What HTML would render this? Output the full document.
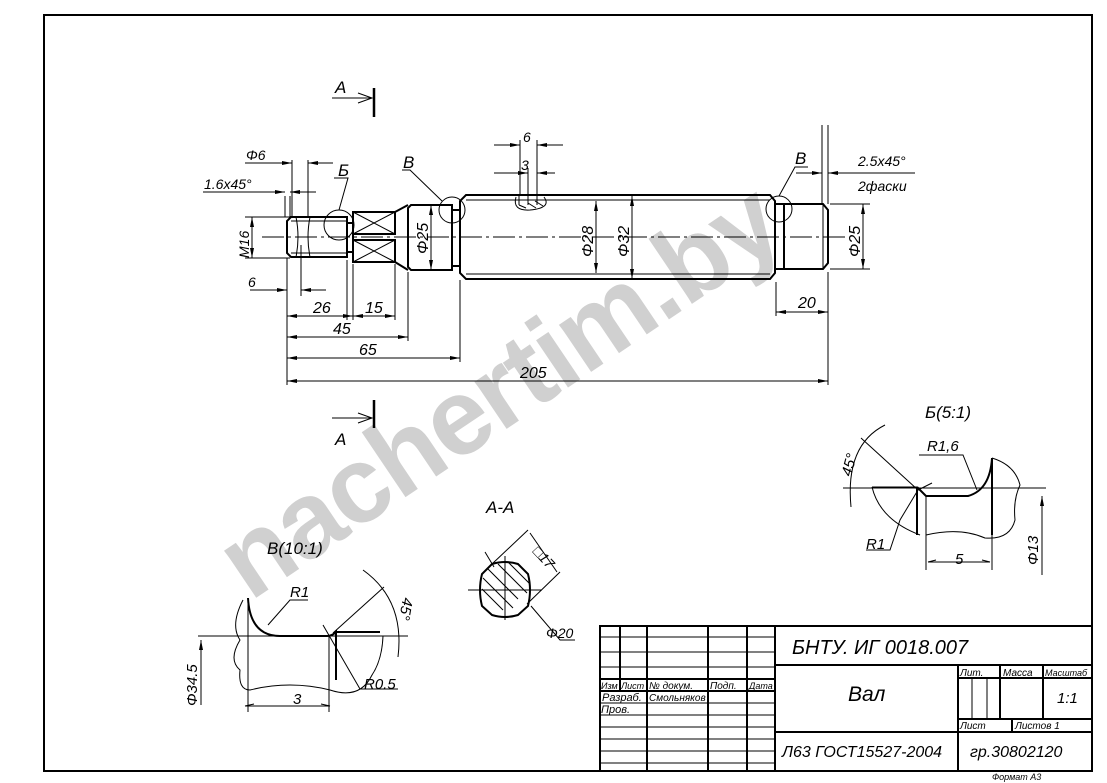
<!DOCTYPE html>
<html><head><meta charset="utf-8"><style>
html,body{margin:0;padding:0;background:#fff;}
svg{display:block;}
text{font-family:"Liberation Sans","DejaVu Sans",sans-serif;font-style:italic;fill:#000;}
</style></head><body>
<svg width="1107" height="783" viewBox="0 0 1107 783" xmlns="http://www.w3.org/2000/svg">
<defs>
<marker id="a" viewBox="0 0 10 4" refX="10" refY="2" markerWidth="10" markerHeight="4" orient="auto-start-reverse" markerUnits="userSpaceOnUse"><path d="M0,0 L10,2 L0,4 z" fill="#000"/></marker>
</defs>
<text x="0" y="0" transform="translate(250,602) rotate(-34)" font-size="108" font-weight="bold" style="font-style:normal;fill:#d0d0d0" textLength="650">nachertim.by</text>

<rect x="44" y="15" width="1048" height="756" fill="none" stroke="#000" stroke-width="2"/>

<g fill="none" stroke="#000" stroke-width="2">
<path d="M291,217 L347,217 L347,257 L291,257 L287,253 L287,221 Z"/>
<path d="M347,223 H353 V252 H347"/>
<rect x="353" y="212" width="42" height="22"/>
<rect x="353" y="240" width="42" height="22"/>
<path d="M395,212 L408,205 M395,262 L408,270"/>
<path d="M411,205 H452 V270 H411 L408,267 V208 Z"/>
<path d="M452,210 H460 V266 H452"/>
<path d="M466,195 H770 L775,201 V273 L770,279 H466 L460,273 V201 Z"/>
<path d="M775,204 H784 V269 H775"/>
<path d="M784,204 H823 L828,210 V263 L823,269 H784"/>
</g>
<g fill="none" stroke="#000" stroke-width="1">
<path d="M353,212 L395,234 M395,212 L353,234 M353,240 L395,262 M395,240 L353,262"/>
<path d="M291,221 H347 M291,253 H347"/>
<path d="M296,217 Q300,237 296,257 M310,217 Q306,237 310,257"/>
<path d="M466,200 H770 M466,274 H770"/>
<path d="M823,204 V269 M408,208 V267"/>
<path d="M519,195 V205 M528,195 V205 M537,195 V205 M516,197 Q512,211 530,210 Q552,208 544,197"/>
<path d="M519,205 L526,208 M528,203 L536,208 M535,201 L543,206" />
<path d="M262,237 H845" stroke-dasharray="22,4,3,4"/>
<circle cx="339" cy="225" r="15"/>
<circle cx="452" cy="210" r="13"/>
<circle cx="779" cy="209" r="13"/>
<path d="M339,210 L348,178 H334 M442,201 L410,170 H402 M779,196 L795,167 H808"/>
<path d="M287,258 V385 M301,245 V296 M347,260 V320 M353,264 V320 M395,264 V320 M408,272 V341 M460,280 V362 M828,272 V385 M776,282 V316"/>
<path d="M285,217 V196 M290,217 V196 M292,217 V160 M308,217 V160"/>
<path d="M520,195 V140 M537,195 V140 M528,195 V168"/>
<path d="M822,204 V125 M828,204 V125"/>
<path d="M290,217 H245 M290,258 H245 M830,204 H870 M830,269 H870"/>
</g>
<g fill="none" stroke="#000" stroke-width="1">
<path d="M287,316 H353" marker-start="url(#a)" marker-end="url(#a)"/>
<path d="M353,316 H395" marker-start="url(#a)" marker-end="url(#a)"/>
<path d="M287,337 H408" marker-start="url(#a)" marker-end="url(#a)"/>
<path d="M287,358 H460" marker-start="url(#a)" marker-end="url(#a)"/>
<path d="M287,381 H828" marker-start="url(#a)" marker-end="url(#a)"/>
<path d="M776,312 H828" marker-start="url(#a)" marker-end="url(#a)"/>
<path d="M252,217 V258" marker-start="url(#a)" marker-end="url(#a)"/>
<path d="M431,205 V270" marker-start="url(#a)" marker-end="url(#a)"/>
<path d="M596,201 V273" marker-start="url(#a)" marker-end="url(#a)"/>
<path d="M632,196 V279" marker-start="url(#a)" marker-end="url(#a)"/>
<path d="M863,204 V269" marker-start="url(#a)" marker-end="url(#a)"/>
<path d="M250,290 H287" marker-end="url(#a)"/><path d="M326,290 H301" marker-end="url(#a)"/>
<path d="M245,163 H292" marker-end="url(#a)"/><path d="M333,163 H308" marker-end="url(#a)"/>
<path d="M203,192 H285" marker-end="url(#a)"/><path d="M316,192 H290" marker-end="url(#a)"/>
<path d="M494,145 H520" marker-end="url(#a)"/><path d="M563,145 H537" marker-end="url(#a)"/>
<path d="M494,173 H528" marker-end="url(#a)"/><path d="M555,173 H537" marker-end="url(#a)"/>
<path d="M796,173 H822" marker-end="url(#a)"/><path d="M915,173 H828" marker-end="url(#a)"/>
<path d="M332,98 H372 M358,93 L372,98 L358,103 M332,418 H372 M358,413 L372,418 L358,423"/>
</g>
<path d="M374,88 V117 M374,400 V428" stroke="#000" stroke-width="2.5"/>
<g font-size="16">
<text x="335" y="93" font-size="17">A</text><text x="335" y="445" font-size="17">A</text>
<text x="338" y="176" font-size="17">Б</text><text x="403" y="168" font-size="17">В</text><text x="795" y="164" font-size="17">В</text>
<text x="246" y="160" font-size="14">Φ6</text>
<text x="204" y="189" font-size="14">1.6x45°</text>
<text x="248" y="287" font-size="14">6</text>
<text x="313" y="313">26</text>
<text x="365" y="313">15</text>
<text x="333" y="334">45</text>
<text x="359" y="355">65</text>
<text x="520" y="378">205</text>
<text x="798" y="308">20</text>
<text x="523" y="142" font-size="14">6</text>
<text x="521" y="170" font-size="14">3</text>
<text x="858" y="166" font-size="14">2.5x45°</text>
<text x="858" y="191" font-size="14">2фаски</text>
<text transform="translate(249,258) rotate(-90)" font-size="14">M16</text>
<text transform="translate(428,254) rotate(-90)">Φ25</text>
<text transform="translate(593,257) rotate(-90)">Φ28</text>
<text transform="translate(629,257) rotate(-90)">Φ32</text>
<text transform="translate(860,257) rotate(-90)">Φ25</text>
</g>

<text x="925" y="418" font-size="17">Б(5:1)</text>
<g fill="none" stroke="#000" stroke-width="1">
<path d="M872,487 H917 M872,487 Q880,520 920,535"/>
<path d="M926,535 Q960,527 985,538 Q1010,540 1015,520 Q1013,500 1020,485 Q1015,465 992,458"/>
<path d="M843,488 H1046 M926,496 V570 M992,490 V570 M928,562 H990" />
<path d="M928,562 L936,560 M990,562 L982,560"/>
<path d="M1042,496 V575" marker-start="url(#a)"/>
<path d="M861,438 L918,490 M918,490 L932,483 M918,490 L900,520 L890,550 H866"/>
<path d="M919,455 H963 L977,490"/>
<path d="M885,425 Q845,445 851,507"/>
</g>
<path d="M917,487 V535 M917,487 L926,496 H968 Q990,490 992,458 V535" fill="none" stroke="#000" stroke-width="2"/>
<g font-size="15">
<text x="927" y="451">R1,6</text>
<text x="866" y="549">R1</text>
<text x="955" y="564">5</text>
<text transform="translate(1038,565) rotate(-90)">Φ13</text>
<text transform="translate(851,477) rotate(-75)">45°</text>
</g>

<text x="267" y="554" font-size="17">В(10:1)</text>
<g fill="none" stroke="#000" stroke-width="1">
<path d="M198,636 H408 M248,598 V712 M329,636 V712 M245,706 H330"/>
<path d="M245,706 L254,704 M330,706 L321,704"/>
<path d="M201,640 V705" marker-start="url(#a)"/>
<path d="M243,600 Q230,625 240,640 Q228,660 240,670 Q238,690 250,690 Q290,680 330,690 Q360,700 372,675 Q382,660 383,636"/>
<path d="M333,633 L384,587 M323,625 L360,689 H398"/>
<path d="M268,625 L290,600 H308"/>
<path d="M363,570 Q405,600 398,657"/>
</g>
<path d="M248,598 Q250,636 280,636 H327 Q332,636 336,632 V680 M336,632 H380" fill="none" stroke="#000" stroke-width="2"/>
<g font-size="15">
<text x="290" y="597">R1</text>
<text x="364" y="689">R0.5</text>
<text x="293" y="704">3</text>
<text transform="translate(197,706) rotate(-90)">Φ34.5</text>
<text transform="translate(403,597) rotate(100)">45°</text>
</g>

<text x="486" y="513" font-size="17">A-A</text>
<g fill="none" stroke="#000" stroke-width="1">
<path d="M468,590 H542 M505,556 V620"/>
<path d="M488,569 L518,599 M483,578 L513,608 M482,589 L503,610 M498,564 L527,593 M508,562 L530,584"/>
<path d="M492,564 L528,530 M527,604 L560,572 M530,533 L557,572"/>
<path d="M485,552 L494,567 M531,606 L560,640 H575"/>
</g>
<path d="M492,564 Q505,560 518,564 L528,574 Q532,590 528,606 L518,615 Q505,619 492,615 L482,606 Q478,590 482,574 Z" fill="none" stroke="#000" stroke-width="2"/>
<text transform="translate(532,552) rotate(47)" font-size="14">□17</text>
<text x="546" y="638" font-size="14">Φ20</text>

<g fill="none" stroke="#000" stroke-width="2">
<rect x="600" y="626" width="492" height="145"/>
<path d="M775,626 V771 M775,665 H1092 M775,732 H1092 M958,665 V771 M958,678 H1092 M958,719 H1092 M1000,665 V719 M1043,665 V719 M1012,719 V732"/>
<path d="M620,626 V691 M647,626 V771 M708,626 V771 M747,626 V771 M600,679 H775 M600,691 H775"/>
</g>
<g fill="none" stroke="#000" stroke-width="1">
<path d="M600,637 H775 M600,652 H775 M600,667 H775 M600,703 H775 M600,715 H775 M600,727 H775 M600,739 H775 M600,751 H775 M600,763 H775 M972,678 V719 M987,678 V719"/>
</g>
<g font-size="10">
<text x="601" y="689" font-size="9">Изм</text><text x="621" y="689" font-size="9">Лист</text><text x="649" y="689">№ докум.</text><text x="710" y="689">Подп.</text><text x="749" y="689" font-size="9">Дата</text>
<text x="602" y="701" font-size="11">Разраб.</text><text x="649" y="701">Смольняков</text>
<text x="601" y="713" font-size="11">Пров.</text>
<text x="960" y="676">Лит.</text><text x="1003" y="676">Масса</text><text x="1045" y="676" font-size="9">Масштаб</text>
<text x="960" y="729">Лист</text><text x="1015" y="729">Листов 1</text>
</g>
<text x="792" y="654" font-size="20">БНТУ. ИГ 0018.007</text>
<text x="848" y="701" font-size="21">Вал</text>
<text x="1057" y="703" font-size="15">1:1</text>
<text x="782" y="757" font-size="16">Л63 ГОСТ15527-2004</text>
<text x="970" y="757" font-size="16">гр.30802120</text>
<text x="992" y="780" font-size="9">Формат А3</text>
</svg>
</body></html>
